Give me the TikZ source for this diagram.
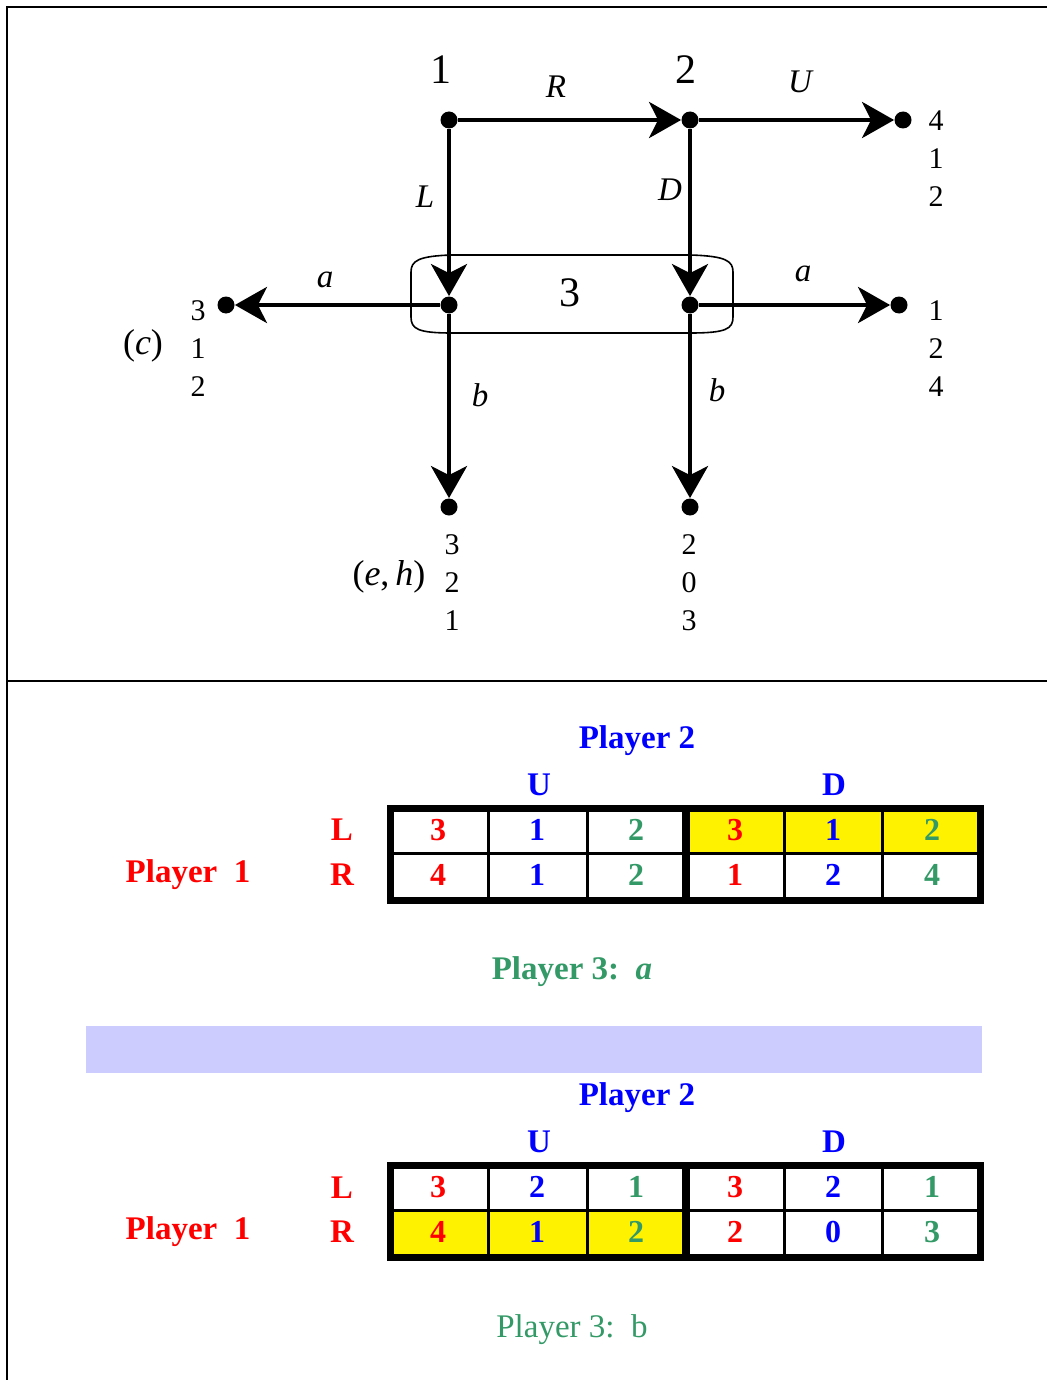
\documentclass[tikz,border=0pt]{standalone}
\usepackage{fontspec}
\setmainfont{Liberation Serif}
\usetikzlibrary{arrows.meta,positioning}
\usepackage{xcolor}
\definecolor{pone}{RGB}{255,0,0}
\definecolor{ptwo}{RGB}{0,0,255}
\definecolor{pthree}{RGB}{51,153,102}
\definecolor{band}{RGB}{204,204,255}

\begin{document}
\begin{tikzpicture}[x=0.5pt, y=-0.5pt,
    dot/.style={circle, fill=black, inner sep=0pt, minimum size=8.5pt},
    edge/.style={line width=2.2pt, -{Stealth[length=16pt, width=18pt, inset=4.5pt]}},
    who/.style={font=\fontsize{21}{24}\selectfont},
    move/.style={font=\fontsize{16.5}{20}\selectfont\itshape},
    pay/.style={font=\fontsize{15}{19}\selectfont, align=center},
    infoset/.style={line width=0.8pt},
    head/.style={font=\fontsize{16.5}{20}\selectfont\bfseries, text=#1},
    cell/.style={font=\fontsize{16}{20}\selectfont\bfseries, text=#1},
    grid/.style={line width=#1}]

  \useasboundingbox (0,0) rectangle (1047,1380);

  %% Frame
  \draw[line width=1pt] (7,1380) -- (7,7) -- (1047,7);
  \draw[line width=1pt] (7,681) -- (1047,681);

  %% Tree nodes
  \node[dot] (n1) at (449,120) {};
  \node[dot] (n2) at (690,120) {};
  \node[dot] (i1) at (449,305) {};
  \node[dot] (i2) at (690,305) {};
  \node[dot] (tu) at (903,120) {};
  \node[dot] (tc) at (226,305) {};
  \node[dot] (ta) at (899,305) {};
  \node[dot] (tl) at (449,507) {};
  \node[dot] (tr) at (690,507) {};

  %% Information set of player 3
  \draw[infoset] (452,255) -- (690,255)
    .. controls (726,256) and (733,261) .. (733,272) -- (733,317)
    .. controls (733,329) and (726,333) .. (690,333) -- (452,333)
    .. controls (418,333) and (411,329) .. (411,317) -- (411,272)
    .. controls (411,261) and (418,256) .. (452,255) -- cycle;

  %% Moves
  \draw[edge] (n1) -- (n2);
  \draw[edge] (n2) -- (tu);
  \draw[edge] (n1) -- (i1);
  \draw[edge] (n2) -- (i2);
  \draw[edge] (i1) -- (tc);
  \draw[edge] (i2) -- (ta);
  \draw[edge] (i1) -- (tl);
  \draw[edge] (i2) -- (tr);

  %% Players
  \node[who] (w1) at (441,70) {1};
  \node[who] (w2) at (686,70) {2};
  \node[who] (w3) at (570,293) {3};

  %% Move labels
  \node[move] (mR) at (556,87) {R};
  \node[move] (mU) at (800,82) {U};
  \node[move] (mL) at (425,197) {L};
  \node[move] (mD) at (670,190) {D};
  \node[move] (ma1) at (325,280) {a};
  \node[move] (ma2) at (803,274) {a};
  \node[move] (mb1) at (480,395) {b};
  \node[move] (mb2) at (717,390) {b};

  %% Payoffs
  \node[pay] (pu) at (936,159) {4\\1\\2};
  \node[pay] (pc) at (198,349) {3\\1\\2};
  \node[pay] (pa) at (936,349) {1\\2\\4};
  \node[pay] (pl) at (452,583) {3\\2\\1};
  \node[pay] (pr) at (689,583) {2\\0\\3};
  \node[font=\fontsize{18}{21}\selectfont] (sc) at (143,346) {(\textit{c})};
  \node[font=\fontsize{18}{21}\selectfont] (seh) at (389,577) {(\textit{e},\,\textit{h})};

  %% Matrix for a
  \fill[yellow] (686,808) rectangle (980,853);
  \draw[grid=1.5pt] (390,853) -- (980,853);
  \draw[grid=1.5pt] (488,808) -- (488,900) (587,808) -- (587,900)
                    (784,808) -- (784,900) (882,808) -- (882,900);
  \draw[grid=4pt] (686,808) -- (686,900);
  \draw[grid=3.5pt] (390,808) rectangle (980,900);

  \node[head=ptwo] (p2a) at (637,741) {Player 2};
  \node[head=ptwo] (ua) at (539,785) {U};
  \node[head=ptwo] (da) at (834,785) {D};
  \node[head=pone] (la) at (342,830) {L};
  \node[head=pone] (ra) at (342,875) {R};
  \node[head=pone] (p1a) at (188,875) {Player\ \ 1};
  \node[head=pthree] (p3a) at (572,972) {Player 3:\ \ \textit{a}};

  \node[cell=pone] at (438,830) {3};   \node[cell=ptwo] at (537,830) {1};
  \node[cell=pthree] at (636,830) {2}; \node[cell=pone] at (735,830) {3};
  \node[cell=ptwo] at (833,830) {1};   \node[cell=pthree] at (932,830) {2};
  \node[cell=pone] at (438,875) {4};   \node[cell=ptwo] at (537,875) {1};
  \node[cell=pthree] at (636,875) {2}; \node[cell=pone] at (735,875) {1};
  \node[cell=ptwo] at (833,875) {2};   \node[cell=pthree] at (932,875) {4};

  %% Band
  \fill[band] (86,1026) rectangle (982,1073);

  %% Matrix for b
  \fill[yellow] (390,1210) rectangle (686,1257);
  \draw[grid=1.5pt] (390,1210) -- (980,1210);
  \draw[grid=1.5pt] (488,1165) -- (488,1257) (587,1165) -- (587,1257)
                    (784,1165) -- (784,1257) (882,1165) -- (882,1257);
  \draw[grid=4pt] (686,1165) -- (686,1257);
  \draw[grid=3.5pt] (390,1165) rectangle (980,1257);

  \node[head=ptwo] (p2b) at (637,1098) {Player 2};
  \node[head=ptwo] (ub) at (539,1142) {U};
  \node[head=ptwo] (db) at (834,1142) {D};
  \node[head=pone] (lb) at (342,1188) {L};
  \node[head=pone] (rb) at (342,1232) {R};
  \node[head=pone] (p1b) at (188,1232) {Player\ \ 1};
  \node[font=\fontsize{16.5}{20}\selectfont, text=pthree] (p3b) at (572,1330) {Player 3:\ \ b};

  \node[cell=pone] at (438,1187) {3};   \node[cell=ptwo] at (537,1187) {2};
  \node[cell=pthree] at (636,1187) {1}; \node[cell=pone] at (735,1187) {3};
  \node[cell=ptwo] at (833,1187) {2};   \node[cell=pthree] at (932,1187) {1};
  \node[cell=pone] at (438,1232) {4};   \node[cell=ptwo] at (537,1232) {1};
  \node[cell=pthree] at (636,1232) {2}; \node[cell=pone] at (735,1232) {2};
  \node[cell=ptwo] at (833,1232) {0};   \node[cell=pthree] at (932,1232) {3};
\end{tikzpicture}
\end{document}
